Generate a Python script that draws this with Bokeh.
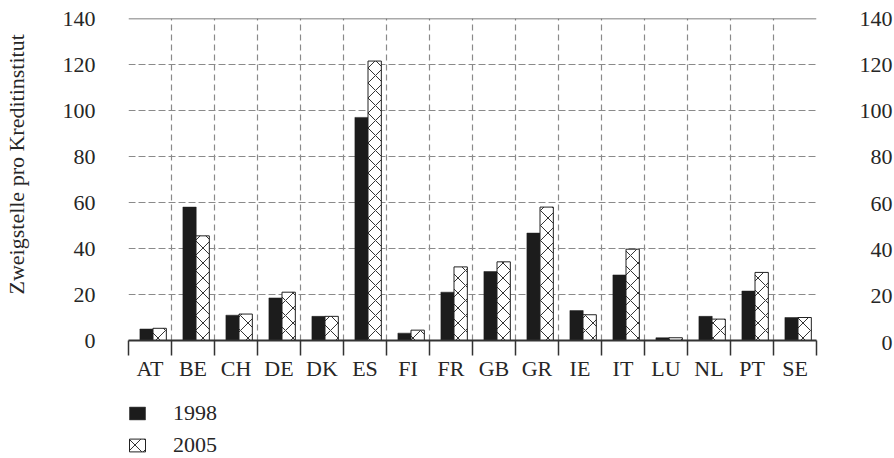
from bokeh.plotting import figure
from bokeh.models import Range1d, FixedTicker, Span, Legend, LegendItem, ColumnDataSource, Title
from bokeh.layouts import row, column
from bokeh.embed import file_html
from bokeh.resources import INLINE

countries = ["AT", "BE", "CH", "DE", "DK", "ES", "FI", "FR", "GB", "GR", "IE", "IT", "LU", "NL", "PT", "SE"]
values_1998 = [5, 58, 11, 18.5, 10.5, 97, 3.2, 21, 30, 46.7, 13, 28.5, 1.2, 10.5, 21.5, 10]
values_2005 = [5.3, 45.5, 11.5, 21, 10.5, 121.5, 4.5, 32, 34.2, 58, 11.2, 39.7, 1.2, 9.3, 29.6, 10]
series = ["1998", "2005"]
y_ticks = [0, 20, 40, 60, 80, 100, 120, 140]
y_title = "Zweigstelle pro Kreditinstitut"

FONT = "Liberation Serif"
TXT = "#262626"

n = len(countries)
centers = [i + 0.5 for i in range(n)]
bounds = list(range(n + 1))

BAR_1998 = dict(fill_color="#1c1c1c", line_color="#1c1c1c", line_width=0.5)
BAR_2005 = dict(fill_color="white", line_color="#222222", line_width=1,
                hatch_pattern="x", hatch_color="#333333", hatch_scale=15, hatch_weight=1)

src = ColumnDataSource(dict(
    x1=[c - 0.08 for c in centers],
    x2=[c + 0.225 for c in centers],
    v1=values_1998,
    v2=values_2005,
))

# ---- left strip holding the y title
p0 = figure(frame_width=1, frame_height=322, output_backend="svg", toolbar_location=None,
            x_range=Range1d(0, 1), y_range=Range1d(0, 1),
            min_border_left=0, min_border_right=0, min_border_top=16, min_border_bottom=58)
p0.outline_line_color = None
p0.axis.visible = False
p0.grid.visible = False
p0.add_layout(Title(text=y_title, align="left", offset=46, standoff=2,
                    text_font=FONT, text_font_style="normal", text_font_size="22px",
                    text_color=TXT), "left")

# ---- main chart
p = figure(frame_width=688, frame_height=322, output_backend="svg", toolbar_location=None,
           x_range=Range1d(0, n), y_range=Range1d(0, 140),
           min_border_left=98, min_border_right=40, min_border_top=16, min_border_bottom=58)
p.outline_line_color = None
p.background_fill_color = "white"
p.border_fill_color = "white"

r1 = p.vbar(x="x1", top="v1", width=0.31, bottom=0, source=src, **BAR_1998)
r2 = p.vbar(x="x2", top="v2", width=0.31, bottom=0, source=src, **BAR_2005)

xa = p.xaxis[0]
xa.ticker = FixedTicker(ticks=centers, minor_ticks=bounds)
xa.major_label_overrides = {c: lab for c, lab in zip(centers, countries)}
xa.major_tick_out = 0
xa.major_tick_in = 0
xa.minor_tick_out = 15
xa.minor_tick_in = 0
xa.minor_tick_line_color = "#333333"
xa.minor_tick_line_width = 1.5
xa.axis_line_color = "#333333"
xa.axis_line_width = 2
xa.major_label_standoff = 0
xa.major_label_text_font = FONT
xa.major_label_text_font_size = "22px"
xa.major_label_text_color = TXT

ya = p.yaxis[0]
ya.ticker = FixedTicker(ticks=y_ticks)
ya.axis_line_color = None
ya.major_tick_line_color = None
ya.minor_tick_line_color = None
ya.major_tick_out = 0
ya.major_label_standoff = 33
ya.major_label_text_font = FONT
ya.major_label_text_font_size = "22px"
ya.major_label_text_color = TXT

p.xgrid.ticker = FixedTicker(ticks=bounds[1:-1])
p.xgrid.grid_line_color = "#8a8a8a"
p.xgrid.grid_line_dash = "6 4"
p.xgrid.grid_line_width = 1.2
p.ygrid.ticker = FixedTicker(ticks=y_ticks[1:-1])
p.ygrid.grid_line_color = "#8a8a8a"
p.ygrid.grid_line_dash = "7 3"
p.ygrid.grid_line_width = 1.2
p.add_layout(Span(location=y_ticks[-1], dimension="width", line_color="#555555", line_width=1.5))

# ---- neighbouring chart's y-axis labels at the right edge
p2 = figure(frame_width=1, frame_height=324, output_backend="svg", toolbar_location=None,
            x_range=Range1d(0, 1), y_range=Range1d(0, 140),
            min_border_left=0, min_border_right=0, min_border_top=18, min_border_bottom=54)
p2.outline_line_color = None
p2.xaxis.visible = False
p2.grid.visible = False
ya2 = p2.yaxis[0]
ya2.ticker = FixedTicker(ticks=y_ticks)
ya2.axis_line_color = None
ya2.major_tick_line_color = None
ya2.minor_tick_line_color = None
ya2.major_tick_out = 0
ya2.major_label_standoff = 2
ya2.major_label_text_font = FONT
ya2.major_label_text_font_size = "22px"
ya2.major_label_text_color = TXT

# ---- legend strip (hidden key renderers, only their legend swatches are shown)
p3 = figure(frame_width=200, frame_height=62, output_backend="svg", toolbar_location=None,
            x_range=Range1d(0, 1), y_range=Range1d(0, 1),
            min_border_left=127, min_border_right=0, min_border_top=0, min_border_bottom=0)
p3.outline_line_color = None
p3.axis.visible = False
p3.grid.visible = False
key_src = ColumnDataSource(dict(x=[0.5], top=[0.5]))
k1 = p3.vbar(x="x", top="top", width=0.3, source=key_src, visible=False, **BAR_1998)
k2 = p3.vbar(x="x", top="top", width=0.3, source=key_src, visible=False, **BAR_2005)
legend = Legend(items=[LegendItem(label=series[0], renderers=[k1]),
                       LegendItem(label=series[1], renderers=[k2])],
                location=(0, 0), orientation="vertical",
                glyph_width=20, glyph_height=16, label_standoff=26, spacing=6,
                padding=0, margin=0, border_line_color=None, background_fill_alpha=0,
                inactive_fill_alpha=0,
                label_text_font=FONT, label_text_font_size="22px", label_text_color=TXT)
p3.add_layout(legend, "center")

layout = column(row(p0, p, p2), p3)
open("out.html", "w").write(file_html(layout, INLINE))
